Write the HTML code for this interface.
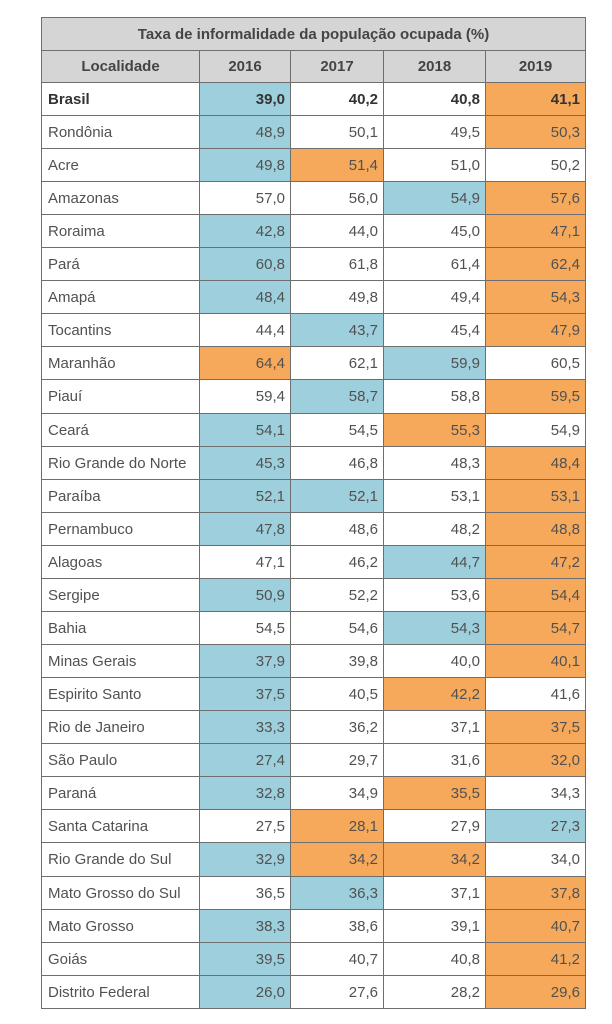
<!DOCTYPE html>
<html><head><meta charset="utf-8">
<style>
html,body{margin:0;padding:0;background:#fff;width:612px;height:1024px;overflow:hidden}
.g{position:absolute;left:41px;top:17px;display:grid;background:#6e6e6e;padding:1px;gap:1px;
grid-template-columns:157px 90px 92px 101px 99px;
grid-template-rows:32px 31px repeat(9,32px) 33px repeat(13,32px) 33px repeat(4,32px);
font-family:"Liberation Sans",sans-serif;font-size:15px;color:#515151}
.g div{background:#fff;display:flex;align-items:center;justify-content:flex-end;padding:0 5px;white-space:nowrap}
.g div.l{justify-content:flex-start;padding-left:6px}
.g div.t{grid-column:1/6;background:#d5d5d5;justify-content:center;font-weight:bold;color:#444}
.g div.h{background:#d5d5d5;justify-content:center;font-weight:bold;color:#444}
.g div.b{background:#9dcfdc}
.g div.o{background:#f6a95b}
.g div.br{font-weight:bold;color:#333}
</style></head><body>
<div class="g">
<div class="t">Taxa de informalidade da população ocupada (%)</div>
<div class="h">Localidade</div><div class="h">2016</div><div class="h">2017</div><div class="h">2018</div><div class="h">2019</div>
<div class="l br">Brasil</div><div class="b br">39,0</div><div class="br">40,2</div><div class="br">40,8</div><div class="o br">41,1</div>
<div class="l">Rondônia</div><div class="b">48,9</div><div>50,1</div><div>49,5</div><div class="o">50,3</div>
<div class="l">Acre</div><div class="b">49,8</div><div class="o">51,4</div><div>51,0</div><div>50,2</div>
<div class="l">Amazonas</div><div>57,0</div><div>56,0</div><div class="b">54,9</div><div class="o">57,6</div>
<div class="l">Roraima</div><div class="b">42,8</div><div>44,0</div><div>45,0</div><div class="o">47,1</div>
<div class="l">Pará</div><div class="b">60,8</div><div>61,8</div><div>61,4</div><div class="o">62,4</div>
<div class="l">Amapá</div><div class="b">48,4</div><div>49,8</div><div>49,4</div><div class="o">54,3</div>
<div class="l">Tocantins</div><div>44,4</div><div class="b">43,7</div><div>45,4</div><div class="o">47,9</div>
<div class="l">Maranhão</div><div class="o">64,4</div><div>62,1</div><div class="b">59,9</div><div>60,5</div>
<div class="l">Piauí</div><div>59,4</div><div class="b">58,7</div><div>58,8</div><div class="o">59,5</div>
<div class="l">Ceará</div><div class="b">54,1</div><div>54,5</div><div class="o">55,3</div><div>54,9</div>
<div class="l">Rio Grande do Norte</div><div class="b">45,3</div><div>46,8</div><div>48,3</div><div class="o">48,4</div>
<div class="l">Paraíba</div><div class="b">52,1</div><div class="b">52,1</div><div>53,1</div><div class="o">53,1</div>
<div class="l">Pernambuco</div><div class="b">47,8</div><div>48,6</div><div>48,2</div><div class="o">48,8</div>
<div class="l">Alagoas</div><div>47,1</div><div>46,2</div><div class="b">44,7</div><div class="o">47,2</div>
<div class="l">Sergipe</div><div class="b">50,9</div><div>52,2</div><div>53,6</div><div class="o">54,4</div>
<div class="l">Bahia</div><div>54,5</div><div>54,6</div><div class="b">54,3</div><div class="o">54,7</div>
<div class="l">Minas Gerais</div><div class="b">37,9</div><div>39,8</div><div>40,0</div><div class="o">40,1</div>
<div class="l">Espirito Santo</div><div class="b">37,5</div><div>40,5</div><div class="o">42,2</div><div>41,6</div>
<div class="l">Rio de Janeiro</div><div class="b">33,3</div><div>36,2</div><div>37,1</div><div class="o">37,5</div>
<div class="l">São Paulo</div><div class="b">27,4</div><div>29,7</div><div>31,6</div><div class="o">32,0</div>
<div class="l">Paraná</div><div class="b">32,8</div><div>34,9</div><div class="o">35,5</div><div>34,3</div>
<div class="l">Santa Catarina</div><div>27,5</div><div class="o">28,1</div><div>27,9</div><div class="b">27,3</div>
<div class="l">Rio Grande do Sul</div><div class="b">32,9</div><div class="o">34,2</div><div class="o">34,2</div><div>34,0</div>
<div class="l">Mato Grosso do Sul</div><div>36,5</div><div class="b">36,3</div><div>37,1</div><div class="o">37,8</div>
<div class="l">Mato Grosso</div><div class="b">38,3</div><div>38,6</div><div>39,1</div><div class="o">40,7</div>
<div class="l">Goiás</div><div class="b">39,5</div><div>40,7</div><div>40,8</div><div class="o">41,2</div>
<div class="l">Distrito Federal</div><div class="b">26,0</div><div>27,6</div><div>28,2</div><div class="o">29,6</div>
</div>
</body></html>
